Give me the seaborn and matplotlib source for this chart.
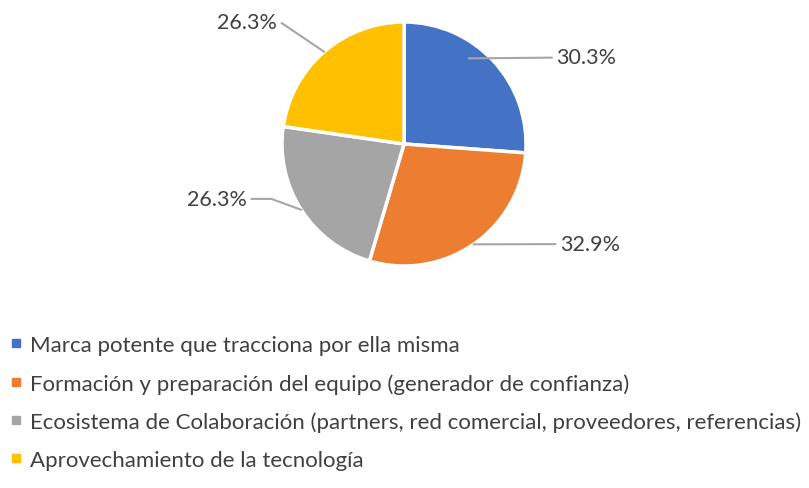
import numpy as np
import matplotlib
matplotlib.use('Agg')
import matplotlib.pyplot as plt
from matplotlib.lines import Line2D
import seaborn as sns

# data
categories = [
    "Marca potente que tracciona por ella misma",
    "Formación y preparación del equipo (generador de confianza)",
    "Ecosistema de Colaboración (partners, red comercial, proveedores, referencias)",
    "Aprovechamiento de la tecnología",
]
values = [30.3, 32.9, 26.3, 26.3]
value_labels = ["30.3%", "32.9%", "26.3%", "26.3%"]
colors = ["#4472C4", "#ED7D31", "#A5A5A5", "#FFC000"]

sns.set_theme(style="white")
plt.rcParams['font.family'] = ['Lato', 'DejaVu Sans']
text_color = "#404040"

fig = plt.figure(figsize=(8.09, 4.89), dpi=100)
ax = fig.add_axes([0.2581, 0.3043, 0.4826, 0.7984])

wedges, _ = ax.pie(
    values,
    colors=colors,
    startangle=90,
    counterclock=False,
    radius=1.0,
    wedgeprops=dict(edgecolor="white", linewidth=2.5),
)
ax.set_xlim(-1.6, 1.6)
ax.set_ylim(-1.6, 1.6)
ax.set_aspect("equal")
ax.axis("off")

# label placement: text position, anchor radius / angle shift, bend angle of leader
label_pos = [(1.25, 0.71), (1.28, -0.82), (-1.29, -0.45), (-1.04, 1.00)]
anchor_r = [0.88, 1.0, 1.0, 1.0]
anchor_shift = [10, 0, 0, 0]
bend = [None, None, 160, 146]
for w, lab, pos, r, sh, b in zip(wedges, value_labels, label_pos, anchor_r, anchor_shift, bend):
    mid = np.deg2rad((w.theta1 + w.theta2) / 2 + sh)
    xy = (r * np.cos(mid), r * np.sin(mid))
    ha = "left" if pos[0] > 0 else "right"
    conn = "arc3,rad=0" if b is None else f"angle,angleA=0,angleB={b},rad=0"
    ax.annotate(
        lab, xy=xy, xytext=pos, ha=ha, va="center",
        fontsize=15.5, color=text_color,
        arrowprops=dict(arrowstyle="-", color="#A6A6A6", lw=1.5,
                        shrinkA=1, shrinkB=0, connectionstyle=conn),
    )

handles = [Line2D([0], [0], marker="s", linestyle="none", markersize=5.5,
                  markerfacecolor=c, markeredgecolor=c) for c in colors]
fig.legend(
    handles, categories,
    loc="upper left", bbox_to_anchor=(0.005, 0.326),
    frameon=False, fontsize=16, labelcolor=text_color,
    handlelength=0.5, handletextpad=0.35, labelspacing=0.8,
    borderaxespad=0, borderpad=0.3,
)

fig.savefig("out.png", dpi=100)
